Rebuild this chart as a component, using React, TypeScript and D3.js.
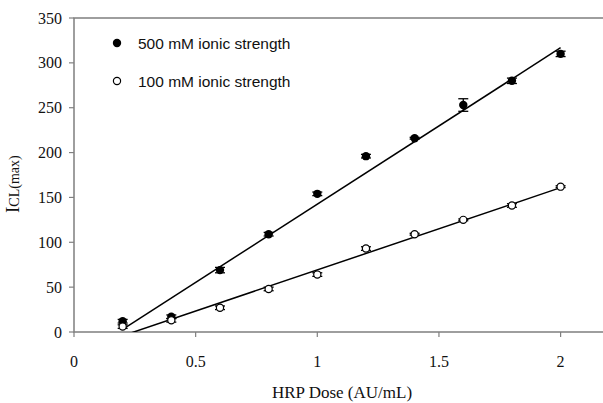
import React from "react";
import * as d3 from "d3";

// HRP dose (AU/mL)
const doses = [0.2, 0.4, 0.6, 0.8, 1.0, 1.2, 1.4, 1.6, 1.8, 2.0];
// Peak chemiluminescence intensity, 500 mM ionic strength
const high = [12, 17, 69, 109, 154, 196, 216, 253, 280, 310];
const highErr = [2, 2, 3, 2, 2, 2, 1, 7, 3, 3];
// Peak chemiluminescence intensity, 100 mM ionic strength
const low = [6, 13, 27, 48, 64, 93, 109, 125, 141, 162];
const lowErr = [2, 2, 2, 2, 2, 2, 1, 1, 2, 1];
// Linear fits (slope, intercept)
const highFit = [174.4, -31.9];
const lowFit = [91.7, -22.5];

const xTicks = [0, 0.5, 1, 1.5, 2];
const yTicks = [0, 50, 100, 150, 200, 250, 300, 350];
const legendLabels = ["500 mM ionic strength", "100 mM ionic strength"];

const W = 603;
const H = 403;
const left = 74;
const top = 18;
const bottom = 332;
const right = 610;

export default function App() {
  const x = d3.scaleLinear().domain([0, 2.2]).range([left, left + 2.2 * 243.3]);
  const y = d3.scaleLinear().domain([0, 350]).range([bottom, top]);
  const line = d3
    .line<number>()
    .x((d) => x(d))
    .y((d) => y(d));

  const fitLine = (f: number[]) =>
    d3
      .line<number>()
      .x((d) => x(d))
      .y((d) => y(f[0] * d + f[1]))([0.2, 2.0]) || "";

  const axisColor = "#7f7f7f";
  const serif = "'Liberation Serif', 'Times New Roman', serif";
  const sans = "'Liberation Sans', Arial, sans-serif";

  const errBars = (vals: number[], errs: number[]) =>
    vals.map((v, i) => {
      const cx = x(doses[i]);
      const y1 = y(v + errs[i]);
      const y2 = y(v - errs[i]);
      return (
        <g key={i} stroke="#000" strokeWidth={1.3}>
          <line x1={cx} x2={cx} y1={y1} y2={y2} />
          <line x1={cx - 5} x2={cx + 5} y1={y1} y2={y1} />
          <line x1={cx - 5} x2={cx + 5} y1={y2} y2={y2} />
        </g>
      );
    });

  return (
    <svg
      width={W}
      height={H}
      style={{ position: "absolute", left: 0, top: 0, background: "#fff" }}
    >
      <defs>
        <clipPath id="plotArea">
          <rect x={left} y={top} width={right - left} height={bottom - top} />
        </clipPath>
      </defs>
      <rect width={W} height={H} fill="#fff" />

      {/* frame */}
      <path
        d={`M${right},${top}H${left}V${bottom}H${right}`}
        fill="none"
        stroke={axisColor}
        strokeWidth={1.5}
      />

      {/* y axis ticks */}
      {yTicks.map((t) => (
        <g key={t}>
          <line x1={left - 5} x2={left} y1={y(t)} y2={y(t)} stroke={axisColor} strokeWidth={1.2} />
          <text
            x={62}
            y={y(t) + 5.5}
            textAnchor="end"
            fontFamily={serif}
            fontSize={16}
            fill="#111"
          >
            {t}
          </text>
        </g>
      ))}

      {/* x axis ticks */}
      {xTicks.map((t) => (
        <g key={t}>
          <line x1={x(t)} x2={x(t)} y1={bottom} y2={bottom + 5} stroke={axisColor} strokeWidth={1.2} />
          <text
            x={x(t)}
            y={367}
            textAnchor="middle"
            fontFamily={serif}
            fontSize={16}
            fill="#111"
          >
            {t}
          </text>
        </g>
      ))}

      {/* axis titles */}
      <text
        x={342}
        y={398}
        textAnchor="middle"
        fontFamily={serif}
        fontSize={17}
        fill="#111"
      >
        HRP Dose (AU/mL)
      </text>
      <text
        transform="translate(19,213) rotate(-90)"
        fontFamily={serif}
        fill="#111"
      >
        <tspan fontSize={19}>I</tspan>
        <tspan fontSize={14}>CL(max)</tspan>
      </text>

      {/* fitted lines */}
      <g clipPath="url(#plotArea)" fill="none" stroke="#000" strokeWidth={1.5}>
        <path d={fitLine(highFit)} />
        <path d={fitLine(lowFit)} />
      </g>

      {/* error bars */}
      {errBars(high, highErr)}
      {errBars(low, lowErr)}

      {/* data points */}
      {high.map((v, i) => (
        <circle key={"h" + i} cx={x(doses[i])} cy={y(v)} r={4.2} fill="#000" />
      ))}
      {low.map((v, i) => (
        <circle
          key={"l" + i}
          cx={x(doses[i])}
          cy={y(v)}
          r={3.6}
          fill="#fff"
          stroke="#000"
          strokeWidth={1.2}
        />
      ))}

      {/* legend */}
      <circle cx={117} cy={43} r={4.2} fill="#000" />
      <text x={138} y={49} fontFamily={sans} fontSize={15.5} fill="#111">
        {legendLabels[0]}
      </text>
      <circle cx={117} cy={81} r={3.6} fill="#fff" stroke="#000" strokeWidth={1.2} />
      <text x={138} y={87} fontFamily={sans} fontSize={15.5} fill="#111">
        {legendLabels[1]}
      </text>
    </svg>
  );
}
